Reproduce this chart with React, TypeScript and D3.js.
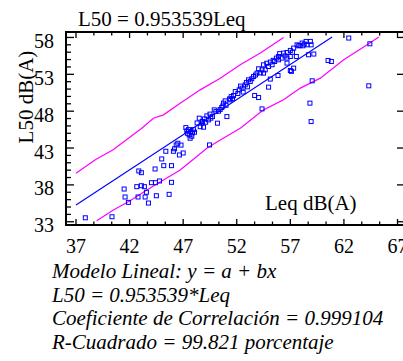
import React from "react";
import * as d3 from "d3";

// Scatter data: Leq (x) and L50 (y), dB(A)
const leqValues = [
  37.87, 40.36, 41.49, 41.58, 41.89, 42.67, 42.79, 42.86, 43.1, 43.1, 43.38, 43.45, 43.57, 43.76,
  44.04, 44.41, 44.79, 44.5, 44.38, 45.0, 45.19, 45.38, 45.91, 45.91, 45.69, 46.09, 46.2, 46.35,
  46.5, 46.65, 47.0, 46.8, 47.25, 47.34, 47.56, 47.72, 47.96, 47.87, 47.65, 48.06, 47.4, 47.8,
  47.5, 48.5, 48.59, 48.74, 48.9, 48.99, 49.21, 49.36, 49.58, 49.73, 49.9, 50.05, 50.2, 49.46,
  48.8, 49.1, 49.5, 48.3, 50.45, 50.6, 50.76, 51.08, 50.92, 51.33, 51.48, 51.7, 51.39, 51.86,
  51.0, 50.3, 51.6, 50.7, 52.23, 52.49, 52.79, 53.1, 53.26, 53.57, 53.89, 52.6, 52.1, 53.67,
  53.4, 52.9, 53.0, 52.35, 53.75, 54.04, 54.36, 54.66, 54.5, 54.97, 55.13, 55.53, 55.9, 54.5,
  54.97, 54.04, 54.36, 55.13, 55.85, 55.3, 54.8, 55.7, 54.2, 55.4, 56.22, 56.69, 57.0, 57.31,
  55.9, 56.37, 56.69, 57.0, 57.31, 57.63, 57.78, 56.69, 57.0, 57.1, 57.56, 56.5, 57.2, 57.9,
  56.0, 58.1, 58.47, 58.94, 58.56, 59.19, 58.87, 58.18, 58.7, 59.04, 58.83, 58.94, 58.3, 60.52,
  60.83, 62.45, 64.42, 64.32,
];
const l50Values = [
  33.54, 33.68, 37.44, 36.36, 35.63, 37.76, 36.36, 39.89, 39.66, 37.89, 37.76, 36.36, 37.0, 35.54,
  38.3, 38.3, 38.53, 36.53, 40.16, 41.52, 40.61, 42.56, 40.61, 38.35, 36.72, 42.56, 42.9, 43.42,
  43.65, 42.06, 42.33, 43.4, 45.77, 45.32, 44.78, 45.23, 45.5, 45.05, 44.33, 45.15, 45.0, 44.6,
  45.5, 47.05, 45.9, 46.37, 45.83, 46.95, 47.36, 46.82, 47.05, 47.27, 48.18, 47.95, 46.37, 43.42,
  46.6, 46.5, 47.6, 46.4, 48.22, 48.49, 49.09, 47.27, 49.4, 49.67, 49.98, 50.12, 49.54, 50.66,
  48.8, 48.0, 49.7, 48.7, 50.89, 51.12, 51.57, 52.25, 52.02, 52.7, 53.16, 50.6, 50.4, 50.12,
  52.4, 51.9, 51.3, 51.4, 52.9, 53.75, 53.61, 53.61, 54.29, 54.06, 54.66, 54.74, 54.97, 53.16,
  51.26, 49.85, 48.31, 52.35, 52.84, 54.3, 54.5, 55.2, 53.2, 54.9, 55.2, 55.2, 55.42, 53.84,
  55.42, 55.88, 55.96, 56.24, 56.56, 57.0, 56.87, 54.52, 53.52, 53.4, 55.42, 55.5, 56.0, 56.9,
  55.8, 57.24, 57.46, 57.0, 57.0, 55.75, 57.46, 56.87, 55.65, 52.12, 49.09, 46.59, 57.1, 54.88,
  54.74, 57.92, 57.14, 51.44,
];

// Fitted model L50 = b * Leq, drawn over this Leq range
const slope = 0.953539;
const fitLeqRange = [37, 60.9];

// Prediction limits
const upperLeq = [37, 38.87, 40.43, 43.14, 44.22, 45.16, 46.72, 48.59, 50.46, 52.33, 54.2, 56.37];
const upperL50 = [39.58, 41.48, 42.74, 45.69, 47.05, 47.5, 49.09, 50.89, 52.48, 54.29, 55.88, 58.0];
const lowerLeq = [38.93, 40.49, 42.05, 43.61, 45.16, 46.72, 47.96, 49.21, 50.46, 52.33, 54.5, 56.37, 57.93, 59.8, 61.98, 64.17, 65.25];
const lowerL50 = [33.14, 34.59, 35.85, 37.31, 38.67, 40.02, 41.48, 42.97, 44.1, 45.69, 48.18, 49.54, 51.13, 52.48, 54.97, 57.0, 58.05];

const xTicks = [37, 42, 47, 52, 57, 62, 67];
const yTicks = [33, 38, 43, 48, 53, 58];

const titleText = "L50 = 0.953539Leq";
const yAxisTitle = "L50 dB(A)";
const xAxisTitle = "Leq dB(A)";
const footerLines = [
  "Modelo Lineal: y = a + bx",
  "L50 = 0.953539*Leq",
  "Coeficiente de Correlación = 0.999104",
  "R-Cuadrado = 99.821 porcentaje",
];

const W = 403;
const H = 361;
const left = 66;
const right = 400;
const top = 32;
const bottom = 225;
const FONT = '"Liberation Serif", "Times New Roman", Times, "DejaVu Serif", serif';
const tStyle: React.CSSProperties = { fontFamily: FONT };

export default function App() {
  const x = d3.scaleLinear().domain([36.067, 67.233]).range([left, right]);
  const y = d3.scaleLinear().domain([32.56, 58.74]).range([bottom, top]);

  const line = d3
    .line<[number, number]>()
    .x((d) => x(d[0]))
    .y((d) => y(d[1]));

  const fitPts: [number, number][] = fitLeqRange.map((v) => [v, slope * v]);
  const upperPts: [number, number][] = upperLeq.map((v, i) => [v, upperL50[i]]);
  const lowerPts: [number, number][] = lowerLeq.map((v, i) => [v, lowerL50[i]]);

  const xMinor: number[] = [];
  for (let k = 0; k <= 18; k++) xMinor.push(37 + (k * 5) / 3);
  const yMinor: number[] = d3.range(33, 59, 1);

  const s = 4;

  return (
    <svg width={W} height={H} style={{ display: "block", position: "absolute", left: 0, top: 0 }}>
      <rect width={W} height={H} fill="#ffffff" />
      <text x={78} y={26} fontSize={21} fill="#000" style={tStyle}>{titleText}</text>

      <path d={line(upperPts) || ""} fill="none" stroke="#ff00ff" strokeWidth={1.2} />
      <path d={line(lowerPts) || ""} fill="none" stroke="#ff00ff" strokeWidth={1.2} />
      <path d={line(fitPts) || ""} fill="none" stroke="#0000ff" strokeWidth={1.1} />

      {leqValues.map((v, i) => (
        <rect
          key={i}
          x={x(v) - s / 2}
          y={y(l50Values[i]) - s / 2}
          width={s}
          height={s}
          fill="none"
          stroke="#0000ff"
          strokeWidth={1}
        />
      ))}

      <line x1={left} y1={top - 1} x2={left} y2={bottom + 1} stroke="#000" strokeWidth={2} />
      <line x1={left - 1} y1={top} x2={W} y2={top} stroke="#000" strokeWidth={2} />
      <line x1={left - 1} y1={bottom} x2={W} y2={bottom} stroke="#000" strokeWidth={2} />

      {yMinor.map((v) => (
        <line key={"ly" + v} x1={left} x2={left + (v % 5 === 3 ? 8 : 5)} y1={y(v)} y2={y(v)} stroke="#000" strokeWidth={1.3} />
      ))}
      {yTicks.map((v) => (
        <line key={"ry" + v} x1={397} x2={W} y1={y(v)} y2={y(v)} stroke="#000" strokeWidth={1.3} />
      ))}
      {xMinor.map((v, k) => {
        const major = k % 3 === 0;
        const len = major ? 6 : 3.5;
        return (
          <g key={"tx" + k}>
            <line x1={x(v)} x2={x(v)} y1={top} y2={top + len} stroke="#000" strokeWidth={1.3} />
            <line x1={x(v)} x2={x(v)} y1={bottom} y2={bottom - len} stroke="#000" strokeWidth={1.3} />
          </g>
        );
      })}

      {xTicks.map((v) => (
        <text key={"xl" + v} x={x(v)} y={253} fontSize={20} textAnchor="middle" fill="#000" style={tStyle}>{v}</text>
      ))}
      {yTicks.map((v) => (
        <text key={"yl" + v} x={54} y={y(v) + 10.5} fontSize={20} textAnchor="end" fill="#000" style={tStyle}>{v}</text>
      ))}

      <text transform={`translate(33,97) rotate(-90)`} fontSize={21} textAnchor="middle" fill="#000" style={tStyle}>{yAxisTitle}</text>
      <text x={265} y={210} fontSize={21} fill="#000" style={tStyle}>{xAxisTitle}</text>

      {footerLines.map((t, i) => (
        <text key={"f" + i} x={52} y={278 + i * 23.5} fontSize={21} fontStyle="italic" fill="#000" style={tStyle}>{t}</text>
      ))}
    </svg>
  );
}
